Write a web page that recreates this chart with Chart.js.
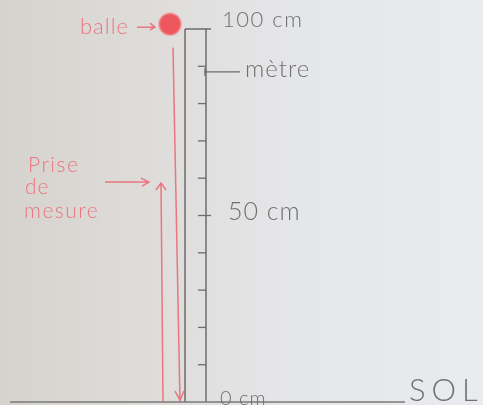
<!DOCTYPE html>
<html><head><meta charset="utf-8">
<script src="https://cdn.jsdelivr.net/npm/chart.js@4"></script>
<style>html,body{margin:0;padding:0;background:#e2e2e2}#wrap{width:483px;height:405px}</style>
</head><body><div id="wrap"><canvas id="c" width="483" height="405"></canvas></div>
<script>
// ---- data (heights in cm) ----
const rulerTickValues = [10, 20, 30, 40, 50, 60, 70, 80, 90];
const rulerLabelValues = [100, 50, 0];
const rulerLabelTexts = ['100 cm', '50 cm', '0 cm'];
const rulerHeight = [0, 100];
const ballHeight = [101.3];
const fallLine = [95, 0];          // red arrow: ball falls to the ground
const measureLine = [0, 58.7];     // red arrow: height measured
const groundLevel = [0, 0];
const annotationTexts = ['balle', 'mètre', 'Prise', 'de', 'mesure', 'SOL'];

// ---- layout (horizontal positions, px-like units) ----
const L = { rulerLeft: 185, rulerRight: 206, rulerTopEnd: 211, fallTop: 173, fallBottom: 180,
  measX0: 163, measX1: 161, ballX: 170, groundX0: 10, groundX1: 405 };
const RED = 'rgba(236,112,122,0.95)';
const GRAY = '#6c6c6c';
const FONT = 'Lato, "DejaVu Sans", sans-serif';

const pts = (xs, ys) => ys.map((y, i) => ({ x: xs[i], y }));

const bg = {
  id: 'bg',
  beforeDraw(ch) {
    const { ctx, width, height } = ch;
    const g = ctx.createLinearGradient(0, 0, width, 0);
    g.addColorStop(0, '#d6d3ce'); g.addColorStop(0.3, '#dedcd9');
    g.addColorStop(0.6, '#e5e6e9'); g.addColorStop(1, '#e9ebef');
    ctx.save(); ctx.fillStyle = g; ctx.fillRect(0, 0, width, height); ctx.restore();
  }
};

function txt(ctx, s, x, y, size, spacing) {
  ctx.font = '300 ' + size + 'px ' + FONT;
  if (ctx.letterSpacing !== undefined) ctx.letterSpacing = (spacing || 0) + 'px';
  ctx.fillText(s, x, y);
  if (ctx.letterSpacing !== undefined) ctx.letterSpacing = '0px';
}

const deco = {
  id: 'deco',
  afterDatasetsDraw(ch) {
    const { ctx } = ch; const y = ch.scales.y, x = ch.scales.x;
    const px = v => x.getPixelForValue(v), py = v => y.getPixelForValue(v);
    ctx.save();
    // ruler ticks
    ctx.strokeStyle = GRAY; ctx.lineWidth = 1.3;
    rulerTickValues.forEach(v => { ctx.beginPath(); ctx.moveTo(px(L.rulerRight) - 8, py(v)); ctx.lineTo(px(L.rulerRight) + (v === 50 ? 5 : 0), py(v)); ctx.stroke(); });
    // pointer to "mètre"
    ctx.beginPath(); ctx.moveTo(px(L.rulerRight) - 2, py(88.5)); ctx.lineTo(px(L.rulerRight) + 34, py(88.5)); ctx.stroke();
    ctx.beginPath(); ctx.moveTo(px(L.rulerRight) - 1, py(88.5) - 4); ctx.lineTo(px(L.rulerRight) - 1, py(88.5) + 4); ctx.stroke();
    // ruler labels
    ctx.fillStyle = '#707070'; ctx.textBaseline = 'alphabetic';
    txt(ctx, rulerLabelTexts[0], 222, py(rulerLabelValues[0]) - 2, 22, 1.5);
    txt(ctx, rulerLabelTexts[1], 228, py(rulerLabelValues[1]) + 4, 25, 1);
    txt(ctx, rulerLabelTexts[2], 220, py(rulerLabelValues[2]) + 3, 20, 1);
    txt(ctx, annotationTexts[1], 245, py(88.5) + 5, 24, 1);
    txt(ctx, annotationTexts[5], 409, py(0) - 1, 31, 6);
    // red annotations
    ctx.fillStyle = RED; ctx.strokeStyle = RED; ctx.lineWidth = 1.5;
    txt(ctx, annotationTexts[0], 80, py(ballHeight[0]) + 10, 22, 1);
    // small arrow balle ->
    const by = py(ballHeight[0]) + 3;
    ctx.beginPath(); ctx.moveTo(137, by); ctx.lineTo(155, by); ctx.moveTo(150, by - 4); ctx.lineTo(155, by); ctx.lineTo(150, by + 3); ctx.stroke();
    txt(ctx, annotationTexts[2], 28, 172, 21, 1.5);
    txt(ctx, annotationTexts[3], 25, 194, 21, 1);
    txt(ctx, annotationTexts[4], 24, 218, 21, 1.5);
    // arrow to the measurement point
    const my = py(measureLine[1]);
    ctx.beginPath(); ctx.moveTo(105, my - 1); ctx.lineTo(148, my - 1); ctx.moveTo(141, my - 5); ctx.lineTo(149, my - 1); ctx.lineTo(142, my + 3); ctx.stroke();
    // arrowheads: up at measure top, down at fall bottom
    const mx = px(L.measX1);
    ctx.beginPath(); ctx.moveTo(mx - 5, my + 7); ctx.lineTo(mx, my); ctx.lineTo(mx + 5, my + 7); ctx.stroke();
    const fx = px(L.fallBottom), fy = py(fallLine[1]) - 2;
    ctx.beginPath(); ctx.moveTo(fx - 5, fy - 9); ctx.lineTo(fx, fy); ctx.lineTo(fx + 4, fy - 9); ctx.stroke();
    ctx.restore();
  }
};

new Chart(document.getElementById('c'), {
  type: 'line',
  data: {
    datasets: [
      { data: pts([L.groundX0, L.groundX1], groundLevel), borderColor: '#7a7a7a', borderWidth: 1.5 },
      { data: pts([L.rulerLeft, L.rulerLeft], rulerHeight), borderColor: GRAY, borderWidth: 1.5 },
      { data: pts([L.rulerRight, L.rulerRight], rulerHeight), borderColor: GRAY, borderWidth: 1.5 },
      { data: pts([L.rulerLeft, L.rulerTopEnd], [rulerHeight[1], rulerHeight[1]]), borderColor: GRAY, borderWidth: 1.5 },
      { data: pts([L.fallTop, L.fallBottom], fallLine), borderColor: RED, borderWidth: 1.5 },
      { data: pts([L.measX0, L.measX1], measureLine), borderColor: RED, borderWidth: 1.5 },
      { type: 'scatter', data: pts([L.ballX], ballHeight), backgroundColor: 'rgba(236,88,94,1)', borderColor: 'rgba(245,150,150,0.6)', borderWidth: 2, pointRadius: 11 }
    ]
  },
  options: {
    responsive: false, animation: false, events: [],
    layout: { padding: 0, autoPadding: false },
    elements: { point: { radius: 0 }, line: { tension: 0 } },
    plugins: { legend: { display: false }, tooltip: { enabled: false } },
    scales: {
      x: { type: 'linear', display: false, min: 0, max: 483 },
      y: { type: 'linear', display: false, min: -0.8, max: 107.77 }
    }
  },
  plugins: [bg, deco]
});
</script></body></html>
